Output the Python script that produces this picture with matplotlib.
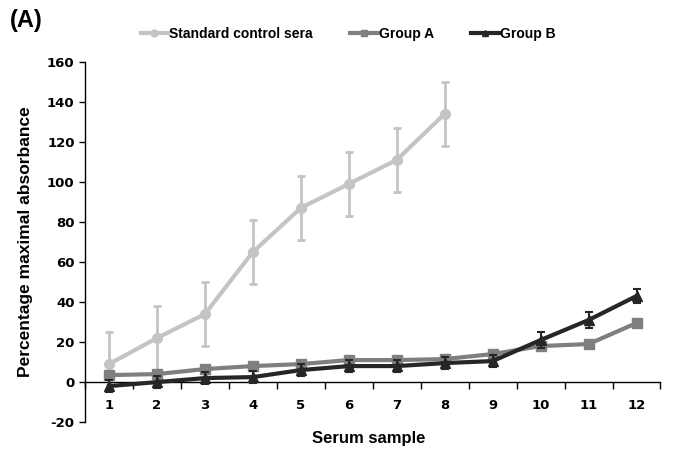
import matplotlib
matplotlib.use("Agg")
import matplotlib.pyplot as plt
import numpy as np

plt.rcParams['font.family'] = ['Liberation Sans', 'DejaVu Sans']
plt.rcParams['axes.unicode_minus'] = False

samples = list(range(1, 13))
y_ticks = list(range(-20, 161, 20))
standard = [9, 22, 34, 65, 87, 99, 111, 134]
standard_err_low = [7, 16, 16, 16, 16, 16, 16, 16]
standard_err_high = [16, 16, 16, 16, 16, 16, 16, 16]
group_a = [3.5, 4, 6.5, 8, 9, 11, 11, 11.5, 14, 18, 19, 29.5]
group_a_err = [1, 1, 1, 1, 1, 1, 1, 1, 1, 1, 1, 1]
group_b = [-2, 0, 2, 2.5, 6, 8, 8, 9.5, 10.5, 21, 31, 43]
group_b_err = [3, 3, 3, 3, 3, 3, 3, 3, 3, 4, 4, 3.5]

series = [
    ('Standard control sera', samples[:8], standard, [standard_err_low, standard_err_high],
     '#c4c4c4', 'o', 2, 2),
    ('Group A', samples, group_a, group_a_err, '#7f7f7f', 's', 1.5, 3),
    ('Group B', samples, group_b, group_b_err, '#262626', '^', 1.5, 4),
]

fig = plt.figure(figsize=(6.77, 4.51), dpi=100)
ax = fig.add_axes([0.1256, 0.064, 0.85, 0.799])

# spine position first: it resets the ticks
ax.spines['top'].set_visible(False)
ax.spines['right'].set_visible(False)
ax.spines['bottom'].set_position(('data', 0))
ax.spines['left'].set_linewidth(1)
ax.spines['bottom'].set_linewidth(1)

for name, xs, ys, err, col, mk, ew, z in series:
    ax.errorbar(xs, ys, yerr=err, color=col, lw=3, fmt='none',
                elinewidth=ew, capsize=3, capthick=ew, zorder=z)
    ax.plot(xs, ys, color=col, lw=3, marker=mk, ms=7, label=name, zorder=z)

tick_font = {'family': 'DejaVu Sans', 'weight': 'bold', 'size': 9.5}
ax.set_xlim(0.5, 12.5)
ax.set_ylim(-20, 160)
ax.set_yticks(y_ticks, labels=[str(v) for v in y_ticks], fontdict=tick_font)
ax.set_xticks(samples, labels=[str(v) for v in samples], fontdict=tick_font)
ax.set_xticks(np.arange(0.5, 12.6, 1), minor=True)
ax.tick_params(axis='x', which='major', length=0, pad=12)
ax.tick_params(axis='x', which='minor', length=5, width=1, direction='out')
ax.tick_params(axis='y', length=4, width=1, direction='out')

ax.set_ylabel('Percentage maximal absorbance', fontsize=12.5, fontweight='bold', labelpad=10)
fig.text(0.545, 0.028, 'Serum sample', ha='center', va='center', fontsize=12, fontweight='bold')
fig.text(0.015, 0.955, '(A)', ha='left', va='center', fontsize=17, fontweight='bold')

leg = fig.legend(loc='center', bbox_to_anchor=(0.514, 0.925), ncol=3, frameon=False,
                 handlelength=2, handletextpad=0.05, columnspacing=2.7, markerscale=0.7,
                 prop={'weight': 'bold', 'size': 10})

fig.savefig('out.png', dpi=100)
